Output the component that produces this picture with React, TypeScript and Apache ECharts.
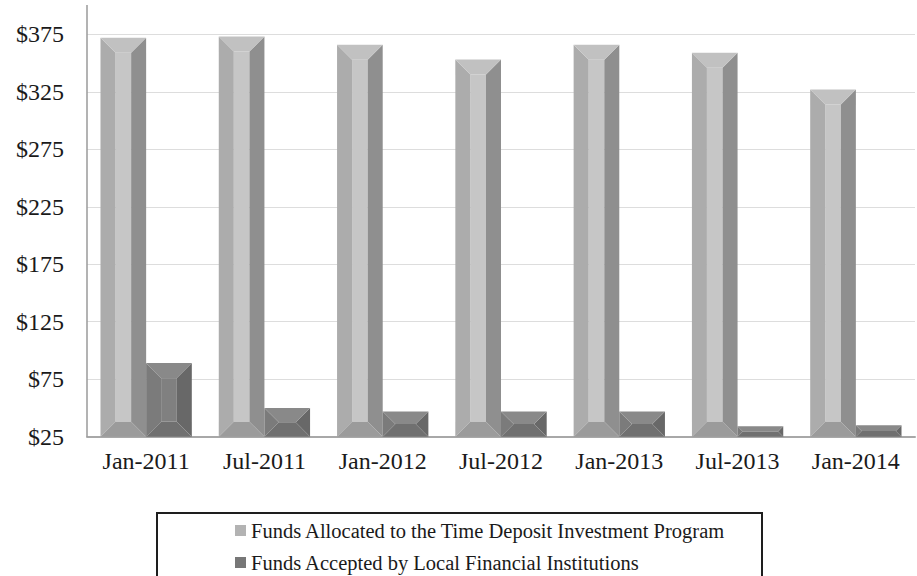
import React, { useEffect, useRef } from "react";
import * as echarts from "echarts";

const categories = ["Jan-2011", "Jul-2011", "Jan-2012", "Jul-2012", "Jan-2013", "Jul-2013", "Jan-2014"];
const allocated = [372, 373, 366, 353, 366, 359, 327];
const accepted = [89, 50, 47, 47, 47, 34, 35];
const yTicks = { min: 25, max: 375, interval: 50 };
const seriesNames = [
  "Funds Allocated to the Time Deposit Investment Program",
  "Funds Accepted by Local Financial Institutions",
];

const FONT = "'Liberation Serif', 'Times New Roman', serif";

const palettes = [
  { top: "#c1c1c1", left: "#acacac", center: "#c6c6c6", right: "#8f8f8f", bottom: "#9b9b9b", legend: "#b3b3b3" },
  { top: "#898989", left: "#7b7b7b", center: "#808080", right: "#686868", bottom: "#707070", legend: "#777777" },
];

function makeRender(seriesIndex: number) {
  const pal = palettes[seriesIndex];
  return (params: any, api: any) => {
    const idx = api.value(0);
    const val = api.value(1);
    const topPt = api.coord([idx, val]);
    const basePt = api.coord([idx, yTicks.min]);
    const band = api.size([1, 0])[0];
    const w = band * 0.386;
    const cx = topPt[0];
    const x0 = seriesIndex === 0 ? cx - w : cx;
    const x1 = x0 + w;
    const yt = topPt[1];
    const yb = basePt[1];
    const h = yb - yt;
    const b = Math.min(15, h / 2, w / 3);
    const poly = (points: number[][], fill: string) => ({
      type: "polygon",
      shape: { points },
      style: { fill, stroke: null },
    });
    return {
      type: "group",
      children: [
        poly([[x0 + b, yt + b], [x1 - b, yt + b], [x1 - b, yb - b], [x0 + b, yb - b]], pal.center),
        poly([[x0, yt], [x0 + b, yt + b], [x0 + b, yb - b], [x0, yb]], pal.left),
        poly([[x1, yt], [x1 - b, yt + b], [x1 - b, yb - b], [x1, yb]], pal.right),
        poly([[x0, yt], [x1, yt], [x1 - b, yt + b], [x0 + b, yt + b]], pal.top),
        poly([[x0, yb], [x1, yb], [x1 - b, yb - b], [x0 + b, yb - b]], pal.bottom),
      ],
    };
  };
}

export default function App() {
  const ref = useRef<HTMLDivElement>(null);
  useEffect(() => {
    if (!ref.current) return;
    const chart = echarts.init(ref.current, null, { renderer: "svg" });
    const gridLeft = 87;
    const gridTop = 34.3;
    const gridBottom = 576 - 436.7;
    chart.setOption({
      animation: false,
      backgroundColor: "#ffffff",
      grid: { left: gridLeft, right: 2, top: gridTop, bottom: gridBottom, containLabel: false },
      xAxis: {
        type: "category",
        data: categories,
        axisLine: { show: true, lineStyle: { color: "#a8a8a8", width: 2 } },
        axisTick: { show: false },
        axisLabel: { color: "#1a1a1a", fontFamily: FONT, fontSize: 24, margin: 12 },
      },
      yAxis: {
        type: "value",
        min: yTicks.min,
        max: yTicks.max,
        interval: yTicks.interval,
        axisLine: { show: false },
        axisTick: { show: false },
        splitLine: { show: true, lineStyle: { color: "#dddddd", width: 1 } },
        axisLabel: {
          color: "#1a1a1a",
          fontFamily: FONT,
          fontSize: 24,
          margin: 23,
          formatter: (v: number) => "$" + v,
        },
      },
      legend: {
        orient: "vertical",
        left: 235,
        top: 520,
        padding: 0,
        itemGap: 11,
        itemWidth: 11,
        itemHeight: 11,
        icon: "rect",
        textStyle: { color: "#1a1a1a", fontFamily: FONT, fontSize: 20.5 },
        data: seriesNames,
      },
      graphic: [
        {
          type: "line",
          shape: { x1: gridLeft, y1: 5, x2: gridLeft, y2: 436.7 },
          style: { stroke: "#9a9a9a", lineWidth: 1.5 },
          z: 10,
        },
        {
          type: "rect",
          shape: { x: 157, y: 513, width: 605, height: 90 },
          style: { fill: "none", stroke: "#1e1e1e", lineWidth: 2 },
          z: 0,
        },
      ],
      series: [
        {
          type: "custom",
          name: seriesNames[0],
          renderItem: makeRender(0),
          itemStyle: { color: palettes[0].legend },
          encode: { x: 0, y: 1 },
          data: allocated.map((v, i) => [i, v]),
        },
        {
          type: "custom",
          name: seriesNames[1],
          renderItem: makeRender(1),
          itemStyle: { color: palettes[1].legend },
          encode: { x: 0, y: 1 },
          data: accepted.map((v, i) => [i, v]),
        },
      ],
    });
    return () => chart.dispose();
  }, []);
  return (
    <div
      ref={ref}
      style={{ position: "fixed", left: 0, top: 0, width: 917, height: 576, background: "#fff" }}
    />
  );
}
